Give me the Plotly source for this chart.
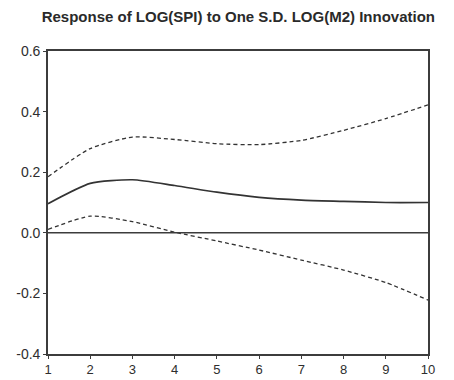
import plotly.graph_objects as go

# Impulse response of LOG(SPI) to a one S.D. LOG(M2) shock, with +/- 2 S.E. bands
periods = [1, 2, 3, 4, 5, 6, 7, 8, 9, 10]
response = [0.096, 0.163, 0.175, 0.156, 0.134, 0.117, 0.108, 0.104, 0.100, 0.100]
upper_band = [0.185, 0.278, 0.316, 0.308, 0.294, 0.291, 0.305, 0.338, 0.377, 0.422]
lower_band = [0.011, 0.055, 0.037, 0.002, -0.027, -0.057, -0.090, -0.123, -0.164, -0.222]
y_ticks = [-0.4, -0.2, 0.0, 0.2, 0.4, 0.6]
y_tick_text = ["-0.4", "-0.2", "0.0", "0.2", "0.4", "0.6"]

line_color = "#333333"
axis_color = "#3c3c3c"

fig = go.Figure()
fig.add_trace(go.Scatter(x=periods, y=upper_band, mode="lines",
                         line=dict(color=line_color, width=1.3, dash="4px,3px", shape="spline", smoothing=0.6)))
fig.add_trace(go.Scatter(x=periods, y=response, mode="lines",
                         line=dict(color=line_color, width=1.7, shape="spline", smoothing=0.6)))
fig.add_trace(go.Scatter(x=periods, y=lower_band, mode="lines",
                         line=dict(color=line_color, width=1.3, dash="4px,3px", shape="spline", smoothing=0.6)))

fig.add_hline(y=0, line=dict(color=axis_color, width=1.5))

fig.update_layout(
    width=454, height=380,
    margin=dict(l=48, r=26, t=51, b=26, autoexpand=False),
    paper_bgcolor="white", plot_bgcolor="white",
    showlegend=False,
    font=dict(family="Liberation Sans, Arial, sans-serif", color="#2e2e2e", size=14),
    title=dict(text="<b>Response of LOG(SPI) to One S.D. LOG(M2) Innovation</b>",
               x=0.525, xanchor="center", y=0.955, yanchor="middle",
               font=dict(size=15, color="#2a2a2a")),
)
fig.update_xaxes(range=[1, 10], tickvals=periods, ticks="outside", ticklen=3,
                 tickcolor=axis_color, tickwidth=1.3, ticklabelstandoff=0,
                 tickfont=dict(size=13),
                 automargin=False, showgrid=False, zeroline=False,
                 showline=True, linecolor=axis_color, linewidth=1.6, mirror=True)
fig.update_yaxes(range=[-0.4, 0.6], tickvals=y_ticks, ticktext=y_tick_text,
                 ticks="outside", ticklen=3, tickcolor=axis_color, tickwidth=1.3,
                 automargin=False, showgrid=False, zeroline=False,
                 showline=True, linecolor=axis_color, linewidth=1.6, mirror=True)

fig.write_html("out.html")
